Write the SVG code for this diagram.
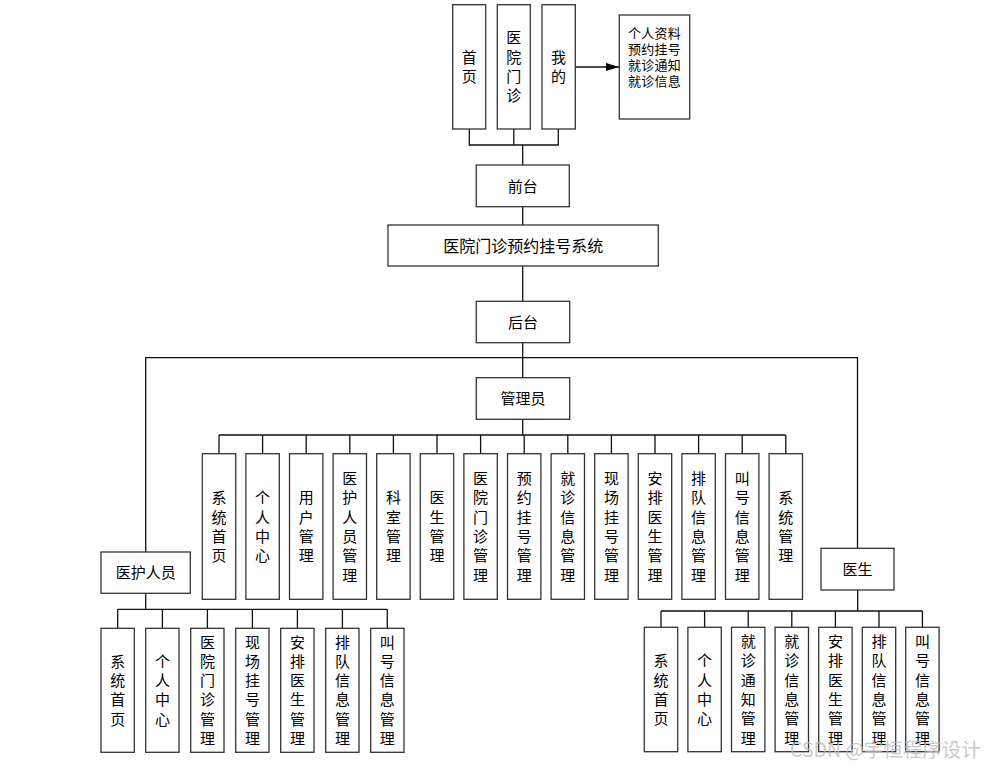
<svg xmlns="http://www.w3.org/2000/svg" width="997" height="770" viewBox="0 0 997 770">
<style>
.box{fill:#fff;stroke:#333;stroke-width:1.3}
.ln{fill:none;stroke:#111;stroke-width:1.3}
text{font-family:"Noto Sans CJK SC","Liberation Sans",sans-serif;font-size:15px;fill:#000;text-anchor:middle}
.small{font-size:13px}
.title{font-size:16px}
.wm{font-size:19.5px;fill:#bbb;fill-opacity:0.8;text-anchor:start}
</style>
<defs>
<marker id="arr" markerWidth="14" markerHeight="10" refX="13" refY="4" orient="auto" markerUnits="userSpaceOnUse">
<path d="M0,0 L13,4 L0,8 Z" fill="#000"/>
</marker>
</defs>
<rect width="997" height="770" fill="#fff"/>
<g id="connectors">
<path class="ln" d="M469.3,129 V145 H558.3 V129 M513.8,129 V145 M522.7,145 V165"/>
<path class="ln" d="M575.3,67 H619" marker-end="url(#arr)"/>
<path class="ln" d="M522.7,206.7 V225 M522.7,266 V301.3 M522.7,342.7 V377.7"/>
<path class="ln" d="M145.7,552 V357.7 H857.5 V548.3"/>
<path class="ln" d="M522.7,419.3 V435 M219,435 H785.7"/>
<path class="ln" d="M219,435 V453.7 M262.6,435 V453.7 M306.2,435 V453.7 M349.8,435 V453.7 M393.4,435 V453.7 M437,435 V453.7 M480.6,435 V453.7 M524.2,435 V453.7 M567.8,435 V453.7 M611.4,435 V453.7 M655,435 V453.7 M698.6,435 V453.7 M742.2,435 V453.7 M785.8,435 V453.7"/>
<path class="ln" d="M145.7,593.3 V609.3 M117.7,609.3 H387.3 M117.7,609.3 V628.3 M162.4,609.3 V628.3 M207.4,609.3 V628.3 M252.4,609.3 V628.3 M297.4,609.3 V628.3 M342.4,609.3 V628.3 M387.3,609.3 V628.3"/>
<path class="ln" d="M857.7,590 V611 M661,611 H922.4 M661,611 V627.3 M704.6,611 V627.3 M748.2,611 V627.3 M791.8,611 V627.3 M835.4,611 V627.3 M879,611 V627.3 M922.4,611 V627.3"/>
</g>
<g id="n-home"><rect class="box" x="452.7" y="4.7" width="33" height="124.3"/><text x="469.2" y="63"><tspan x="469.2">首</tspan><tspan x="469.2" dy="19.3">页</tspan></text></g>
<g id="n-clinic"><rect class="box" x="497.3" y="4.7" width="33" height="124.3"/><text x="513.8" y="43.3"><tspan x="513.8">医</tspan><tspan x="513.8" dy="19.3">院</tspan><tspan x="513.8" dy="19.3">门</tspan><tspan x="513.8" dy="19.3">诊</tspan></text></g>
<g id="n-mine"><rect class="box" x="542" y="4.7" width="33.3" height="124.3"/><text x="558.6" y="63"><tspan x="558.6">我</tspan><tspan x="558.6" dy="19.3">的</tspan></text></g>
<g id="n-info"><rect class="box" x="619.3" y="15" width="70.4" height="104"/><text class="small" x="654.5" y="38.2" letter-spacing="0.3"><tspan x="654.5">个人资料</tspan><tspan x="654.5" dy="16">预约挂号</tspan><tspan x="654.5" dy="16">就诊通知</tspan><tspan x="654.5" dy="16">就诊信息</tspan></text></g>
<g id="n-front"><rect class="box" x="476.3" y="165" width="93" height="41.7"/><text x="522.8" y="191.5">前台</text></g>
<g id="n-system"><rect class="box" x="388" y="225" width="270.3" height="41"/><text class="title" x="523.2" y="251.6">医院门诊预约挂号系统</text></g>
<g id="n-back"><rect class="box" x="476.3" y="301.3" width="93.4" height="41.4"/><text x="523" y="327.7">后台</text></g>
<g id="n-admin"><rect class="box" x="476.3" y="377.7" width="93.4" height="41.6"/><text x="523" y="404.2">管理员</text></g>
<g id="n-nurse"><rect class="box" x="101" y="552" width="89.3" height="41.3"/><text x="145.7" y="578.4">医护人员</text></g>
<g id="n-doctor"><rect class="box" x="821" y="548.3" width="73" height="41.7"/><text x="857.5" y="574.7">医生</text></g>
<g id="admin-children">
<g id="a1"><rect class="box" x="202.3" y="453.7" width="33.4" height="145.6"/><text x="219" y="503.3"><tspan x="219">系</tspan><tspan x="219" dy="19.3">统</tspan><tspan x="219" dy="19.3">首</tspan><tspan x="219" dy="19.3">页</tspan></text></g>
<g id="a2"><rect class="box" x="245.9" y="453.7" width="33.4" height="145.6"/><text x="262.6" y="503.3"><tspan x="262.6">个</tspan><tspan x="262.6" dy="19.3">人</tspan><tspan x="262.6" dy="19.3">中</tspan><tspan x="262.6" dy="19.3">心</tspan></text></g>
<g id="a3"><rect class="box" x="289.5" y="453.7" width="33.4" height="145.6"/><text x="306.2" y="503.3"><tspan x="306.2">用</tspan><tspan x="306.2" dy="19.3">户</tspan><tspan x="306.2" dy="19.3">管</tspan><tspan x="306.2" dy="19.3">理</tspan></text></g>
<g id="a4"><rect class="box" x="333.1" y="453.7" width="33.4" height="145.6"/><text x="349.8" y="484"><tspan x="349.8">医</tspan><tspan x="349.8" dy="19.3">护</tspan><tspan x="349.8" dy="19.3">人</tspan><tspan x="349.8" dy="19.3">员</tspan><tspan x="349.8" dy="19.3">管</tspan><tspan x="349.8" dy="19.3">理</tspan></text></g>
<g id="a5"><rect class="box" x="376.7" y="453.7" width="33.4" height="145.6"/><text x="393.4" y="503.3"><tspan x="393.4">科</tspan><tspan x="393.4" dy="19.3">室</tspan><tspan x="393.4" dy="19.3">管</tspan><tspan x="393.4" dy="19.3">理</tspan></text></g>
<g id="a6"><rect class="box" x="420.3" y="453.7" width="33.4" height="145.6"/><text x="437" y="503.3"><tspan x="437">医</tspan><tspan x="437" dy="19.3">生</tspan><tspan x="437" dy="19.3">管</tspan><tspan x="437" dy="19.3">理</tspan></text></g>
<g id="a7"><rect class="box" x="463.9" y="453.7" width="33.4" height="145.6"/><text x="480.6" y="484"><tspan x="480.6">医</tspan><tspan x="480.6" dy="19.3">院</tspan><tspan x="480.6" dy="19.3">门</tspan><tspan x="480.6" dy="19.3">诊</tspan><tspan x="480.6" dy="19.3">管</tspan><tspan x="480.6" dy="19.3">理</tspan></text></g>
<g id="a8"><rect class="box" x="507.5" y="453.7" width="33.4" height="145.6"/><text x="524.2" y="484"><tspan x="524.2">预</tspan><tspan x="524.2" dy="19.3">约</tspan><tspan x="524.2" dy="19.3">挂</tspan><tspan x="524.2" dy="19.3">号</tspan><tspan x="524.2" dy="19.3">管</tspan><tspan x="524.2" dy="19.3">理</tspan></text></g>
<g id="a9"><rect class="box" x="551.1" y="453.7" width="33.4" height="145.6"/><text x="567.8" y="484"><tspan x="567.8">就</tspan><tspan x="567.8" dy="19.3">诊</tspan><tspan x="567.8" dy="19.3">信</tspan><tspan x="567.8" dy="19.3">息</tspan><tspan x="567.8" dy="19.3">管</tspan><tspan x="567.8" dy="19.3">理</tspan></text></g>
<g id="a10"><rect class="box" x="594.7" y="453.7" width="33.4" height="145.6"/><text x="611.4" y="484"><tspan x="611.4">现</tspan><tspan x="611.4" dy="19.3">场</tspan><tspan x="611.4" dy="19.3">挂</tspan><tspan x="611.4" dy="19.3">号</tspan><tspan x="611.4" dy="19.3">管</tspan><tspan x="611.4" dy="19.3">理</tspan></text></g>
<g id="a11"><rect class="box" x="638.3" y="453.7" width="33.4" height="145.6"/><text x="655" y="484"><tspan x="655">安</tspan><tspan x="655" dy="19.3">排</tspan><tspan x="655" dy="19.3">医</tspan><tspan x="655" dy="19.3">生</tspan><tspan x="655" dy="19.3">管</tspan><tspan x="655" dy="19.3">理</tspan></text></g>
<g id="a12"><rect class="box" x="681.9" y="453.7" width="33.4" height="145.6"/><text x="698.6" y="484"><tspan x="698.6">排</tspan><tspan x="698.6" dy="19.3">队</tspan><tspan x="698.6" dy="19.3">信</tspan><tspan x="698.6" dy="19.3">息</tspan><tspan x="698.6" dy="19.3">管</tspan><tspan x="698.6" dy="19.3">理</tspan></text></g>
<g id="a13"><rect class="box" x="725.5" y="453.7" width="33.4" height="145.6"/><text x="742.2" y="484"><tspan x="742.2">叫</tspan><tspan x="742.2" dy="19.3">号</tspan><tspan x="742.2" dy="19.3">信</tspan><tspan x="742.2" dy="19.3">息</tspan><tspan x="742.2" dy="19.3">管</tspan><tspan x="742.2" dy="19.3">理</tspan></text></g>
<g id="a14"><rect class="box" x="769.1" y="453.7" width="33.4" height="145.6"/><text x="785.8" y="503.3"><tspan x="785.8">系</tspan><tspan x="785.8" dy="19.3">统</tspan><tspan x="785.8" dy="19.3">管</tspan><tspan x="785.8" dy="19.3">理</tspan></text></g>
</g>
<g id="nurse-children">
<g id="b1"><rect class="box" x="101" y="628.3" width="33.3" height="124" /><text x="117.7" y="666.8"><tspan x="117.7">系</tspan><tspan x="117.7" dy="19.3">统</tspan><tspan x="117.7" dy="19.3">首</tspan><tspan x="117.7" dy="19.3">页</tspan></text></g>
<g id="b2"><rect class="box" x="145.7" y="628.3" width="33.3" height="124" /><text x="162.4" y="666.8"><tspan x="162.4">个</tspan><tspan x="162.4" dy="19.3">人</tspan><tspan x="162.4" dy="19.3">中</tspan><tspan x="162.4" dy="19.3">心</tspan></text></g>
<g id="b3"><rect class="box" x="190.7" y="628.3" width="33.3" height="124" /><text x="207.4" y="647.5"><tspan x="207.4">医</tspan><tspan x="207.4" dy="19.3">院</tspan><tspan x="207.4" dy="19.3">门</tspan><tspan x="207.4" dy="19.3">诊</tspan><tspan x="207.4" dy="19.3">管</tspan><tspan x="207.4" dy="19.3">理</tspan></text></g>
<g id="b4"><rect class="box" x="235.7" y="628.3" width="33.3" height="124" /><text x="252.4" y="647.5"><tspan x="252.4">现</tspan><tspan x="252.4" dy="19.3">场</tspan><tspan x="252.4" dy="19.3">挂</tspan><tspan x="252.4" dy="19.3">号</tspan><tspan x="252.4" dy="19.3">管</tspan><tspan x="252.4" dy="19.3">理</tspan></text></g>
<g id="b5"><rect class="box" x="280.7" y="628.3" width="33.3" height="124" /><text x="297.4" y="647.5"><tspan x="297.4">安</tspan><tspan x="297.4" dy="19.3">排</tspan><tspan x="297.4" dy="19.3">医</tspan><tspan x="297.4" dy="19.3">生</tspan><tspan x="297.4" dy="19.3">管</tspan><tspan x="297.4" dy="19.3">理</tspan></text></g>
<g id="b6"><rect class="box" x="325.7" y="628.3" width="33.3" height="124" /><text x="342.4" y="647.5"><tspan x="342.4">排</tspan><tspan x="342.4" dy="19.3">队</tspan><tspan x="342.4" dy="19.3">信</tspan><tspan x="342.4" dy="19.3">息</tspan><tspan x="342.4" dy="19.3">管</tspan><tspan x="342.4" dy="19.3">理</tspan></text></g>
<g id="b7"><rect class="box" x="370.7" y="628.3" width="33.3" height="124" /><text x="387.3" y="647.5"><tspan x="387.3">叫</tspan><tspan x="387.3" dy="19.3">号</tspan><tspan x="387.3" dy="19.3">信</tspan><tspan x="387.3" dy="19.3">息</tspan><tspan x="387.3" dy="19.3">管</tspan><tspan x="387.3" dy="19.3">理</tspan></text></g>
</g>
<g id="doctor-children">
<g id="c1"><rect class="box" x="644.3" y="627.3" width="33.4" height="124.4"/><text x="661" y="666.3"><tspan x="661">系</tspan><tspan x="661" dy="19.3">统</tspan><tspan x="661" dy="19.3">首</tspan><tspan x="661" dy="19.3">页</tspan></text></g>
<g id="c2"><rect class="box" x="687.9" y="627.3" width="33.4" height="124.4"/><text x="704.6" y="666.3"><tspan x="704.6">个</tspan><tspan x="704.6" dy="19.3">人</tspan><tspan x="704.6" dy="19.3">中</tspan><tspan x="704.6" dy="19.3">心</tspan></text></g>
<g id="c3"><rect class="box" x="731.5" y="627.3" width="33.4" height="124.4"/><text x="748.2" y="647"><tspan x="748.2">就</tspan><tspan x="748.2" dy="19.3">诊</tspan><tspan x="748.2" dy="19.3">通</tspan><tspan x="748.2" dy="19.3">知</tspan><tspan x="748.2" dy="19.3">管</tspan><tspan x="748.2" dy="19.3">理</tspan></text></g>
<g id="c4"><rect class="box" x="775.1" y="627.3" width="33.4" height="124.4"/><text x="791.8" y="647"><tspan x="791.8">就</tspan><tspan x="791.8" dy="19.3">诊</tspan><tspan x="791.8" dy="19.3">信</tspan><tspan x="791.8" dy="19.3">息</tspan><tspan x="791.8" dy="19.3">管</tspan><tspan x="791.8" dy="19.3">理</tspan></text></g>
<g id="c5"><rect class="box" x="818.7" y="627.3" width="33.4" height="124.4"/><text x="835.4" y="647"><tspan x="835.4">安</tspan><tspan x="835.4" dy="19.3">排</tspan><tspan x="835.4" dy="19.3">医</tspan><tspan x="835.4" dy="19.3">生</tspan><tspan x="835.4" dy="19.3">管</tspan><tspan x="835.4" dy="19.3">理</tspan></text></g>
<g id="c6"><rect class="box" x="862.3" y="627.3" width="33.4" height="124.4"/><text x="879" y="647"><tspan x="879">排</tspan><tspan x="879" dy="19.3">队</tspan><tspan x="879" dy="19.3">信</tspan><tspan x="879" dy="19.3">息</tspan><tspan x="879" dy="19.3">管</tspan><tspan x="879" dy="19.3">理</tspan></text></g>
<g id="c7"><rect class="box" x="905.7" y="627.3" width="33.4" height="124.4"/><text x="922.4" y="647"><tspan x="922.4">叫</tspan><tspan x="922.4" dy="19.3">号</tspan><tspan x="922.4" dy="19.3">信</tspan><tspan x="922.4" dy="19.3">息</tspan><tspan x="922.4" dy="19.3">管</tspan><tspan x="922.4" dy="19.3">理</tspan></text></g>
</g>
<text class="wm" x="790" y="757">CSDN @宇恒程序设计</text>
</svg>
